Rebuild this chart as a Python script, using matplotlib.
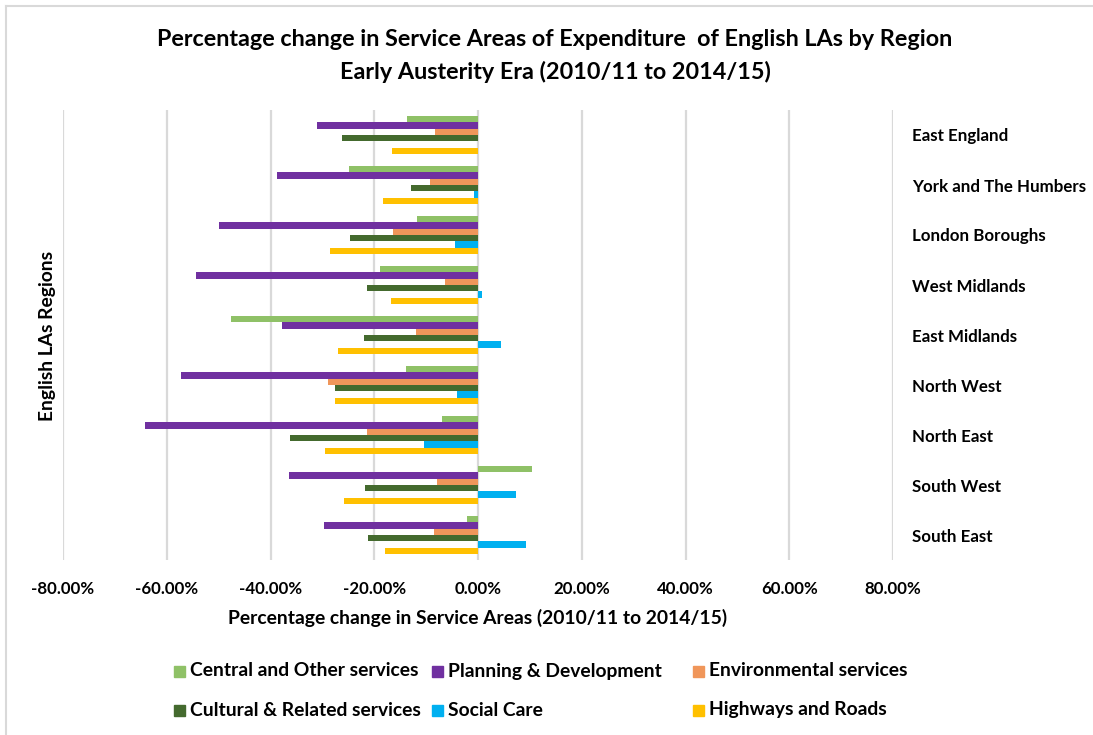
import matplotlib
matplotlib.use("Agg")
import matplotlib.pyplot as plt
from matplotlib.patches import Rectangle
from matplotlib.lines import Line2D
import numpy as np

plt.rcParams['font.family'] = ['Lato', 'DejaVu Sans']

regions = ["East England", "York and The Humbers", "London Boroughs", "West Midlands",
           "East Midlands", "North West", "North East", "South West", "South East"]

# Percentage change 2010/11 -> 2014/15 by service area
central = [-13.6, -24.8, -11.7, -18.9, -47.6, -13.8, -7.0, 10.4, -2.1]
planning = [-31.0, -38.8, -49.9, -54.4, -37.7, -57.2, -64.1, -36.5, -29.6]
environmental = [-8.2, -9.3, -16.3, -6.3, -12.0, -28.9, -21.4, -7.9, -8.4]
cultural = [-26.3, -13.0, -24.6, -21.4, -22.0, -27.5, -36.3, -21.8, -21.2]
social_care = [0.0, -0.8, -4.4, 0.8, 4.5, -4.0, -10.5, 7.3, 9.3]
highways = [-16.5, -18.3, -28.6, -16.7, -26.9, -27.5, -29.4, -25.9, -17.9]

series_names = ["Central and Other services", "Planning & Development", "Environmental services",
                "Cultural & Related services", "Social Care", "Highways and Roads"]
series_values = [central, planning, environmental, cultural, social_care, highways]
colors = ["#8FC167", "#7030A0", "#F0965A", "#446A2E", "#00B0F0", "#FFC000"]

xticks = [-80, -60, -40, -20, 0, 20, 40, 60, 80]

W, H = 1093, 735
fig = plt.figure(figsize=(W / 100, H / 100), dpi=100)
ax = fig.add_axes([63 / W, 1 - 560 / H, (893 - 63) / W, (560 - 110) / H])

n = len(series_names)
bar_h = 0.126
y = np.arange(len(regions))
for j, (vals, col) in enumerate(zip(series_values, colors)):
    ax.barh(y + (j - (n - 1) / 2) * bar_h, vals, height=bar_h, color=col, zorder=3)

ax.set_ylim(len(regions) - 0.5, -0.5)
ax.set_xlim(-80, 80)
ax.set_xticks(xticks)
ax.set_xticklabels([f"{v:.2f}%" for v in xticks], fontsize=12.2, fontweight='bold')
ax.tick_params(axis='x', length=0, pad=15)
ax.grid(axis='x', color='#d9d9d9', linewidth=1.6, zorder=0)
for s in ax.spines.values():
    s.set_visible(False)

ax.yaxis.tick_right()
ax.set_yticks(y)
ax.set_yticklabels(regions, fontsize=12.2, fontweight='bold')
ax.tick_params(axis='y', length=0, pad=13.5)
for lab in ax.get_yticklabels():
    lab.set_horizontalalignment('left')

ax.set_xlabel("Percentage change in Service Areas (2010/11 to 2014/15)",
              fontsize=13.9, fontweight='bold', labelpad=9)
fig.text(48 / W, 1 - 336 / H, "English LAs Regions", rotation=90, ha='center', va='center',
         fontsize=13.9, fontweight='bold')

fig.text(555 / W, 1 - 40 / H,
         "Percentage change in Service Areas of Expenditure  of English LAs by Region",
         ha='center', va='center', fontsize=16.8, fontweight='bold')
fig.text(555 / W, 1 - 72 / H, "Early Austerity Era (2010/11 to 2014/15)",
         ha='center', va='center', fontsize=16.8, fontweight='bold')

# Legend laid out in two rows of three entries
legend_x = [174, 432, 693]
legend_y = [671, 710]
for k, (name, col) in enumerate(zip(series_names, colors)):
    r, c = divmod(k, 3)
    x0, y0 = legend_x[c], legend_y[r]
    fig.patches.append(Rectangle((x0 / W, 1 - (y0 + 5.5) / H), 11 / W, 11 / H,
                                 transform=fig.transFigure, color=col))
    fig.text((x0 + 16) / W, 1 - y0 / H, name, ha='left', va='center',
             fontsize=13.9, fontweight='bold')

# Chart frame
fig.lines.append(Line2D([5.5 / W, 1.0], [1 - 5.5 / H, 1 - 5.5 / H],
                        transform=fig.transFigure, color='#d9d9d9', linewidth=1.5))
fig.lines.append(Line2D([5.5 / W, 5.5 / W], [0.0, 1 - 5.5 / H],
                        transform=fig.transFigure, color='#d9d9d9', linewidth=1.5))

fig.savefig("out.png", dpi=100, facecolor='white')
